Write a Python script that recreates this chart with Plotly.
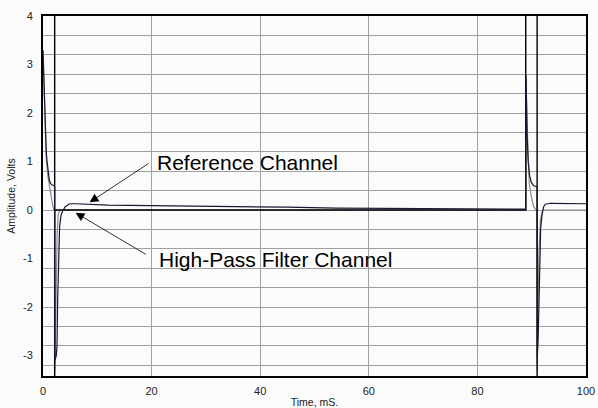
import plotly.graph_objects as go

# ---- Time base and channel samples (time in mS, amplitude in volts) ----
ref_t = [0.0, 0.1, 0.3, 0.42, 0.6, 0.75, 0.95, 1.16, 1.4, 1.65, 2.15,
         2.16, 2.45, 2.58, 2.7, 2.88, 3.06, 3.3, 3.5, 4.1, 4.9, 6.1, 8.0,
         12.0, 20.0, 34.0, 45.0, 54.0, 70.0, 88.9,
         88.95, 89.05, 89.15, 89.35, 89.6, 89.9, 90.35, 91.0,
         91.02, 91.2, 91.35, 91.5, 91.65, 91.9, 92.2, 92.5, 93.5, 100.0]
ref_v = [3.3, 2.9, 2.13, 1.6, 1.2, 1.0, 0.78, 0.62, 0.55, 0.52, 0.49,
         -3.1, -3.0, -2.8, -1.86, -0.82, -0.34, -0.12, -0.05, 0.07, 0.13, 0.13, 0.12,
         0.10, 0.09, 0.08, 0.06, 0.04, 0.03, 0.02,
         2.78, 2.0, 1.55, 1.0, 0.72, 0.58, 0.5, 0.48,
         -3.05, -2.6, -1.6, -0.7, -0.38, -0.1, 0.07, 0.12, 0.14, 0.13]

hpf_t = [0.0, 0.3, 0.6, 0.9, 1.2, 1.5, 1.8, 2.0, 2.15,
         2.17, 2.4, 2.6, 2.8, 3.1, 88.9,
         88.95, 89.25, 89.55, 89.9, 90.35, 90.8, 91.0,
         91.02, 91.3, 91.6, 92.0, 100.0]
hpf_v = [3.2, 1.9, 1.05, 0.7, 0.48, 0.25, 0.08, 0.01, 0.0,
         -3.3, -1.5, -0.5, -0.1, 0.0, 0.0,
         2.7, 1.5, 0.55, 0.3, 0.07, 0.0, 0.0,
         -3.3, -1.0, -0.2, 0.0, 0.0]

# Gate signal: full-scale transitions at the pulse edges
gate_t = [0.0, 2.15, 2.15, 2.16, 88.9, 88.9, 91.0, 91.0]
gate_v = [9.0, 9.0, -9.0, 0.0, 0.0, 9.0, 9.0, -9.0]

# ---- Axes ----
x_range = [0, 100]
y_range = [-3.42, 4]
x_ticks = [0, 20, 40, 60, 80, 100]
y_ticks = [-3, -2, -1, 0, 1, 2, 3, 4]
y_tick_text = ["-3", "-2", "-1", "0", "1", "2", "3", "4"]

FONT = "Liberation Sans, Arial, Helvetica, sans-serif"

fig = go.Figure()
fig.add_trace(go.Scatter(x=hpf_t, y=hpf_v, mode="lines",
                         line=dict(color="#8c8c8c", width=1.2), showlegend=False))
fig.add_trace(go.Scatter(x=gate_t, y=gate_v, mode="lines",
                         line=dict(color="#000000", width=1.4), showlegend=False))
fig.add_trace(go.Scatter(x=ref_t, y=ref_v, mode="lines",
                         line=dict(color="#181830", width=1.2), showlegend=False))

# Callouts
fig.add_annotation(x=8.58, y=0.16, ax=19.7, ay=0.98, xref="x", yref="y",
                   axref="x", ayref="y", text="", showarrow=True,
                   arrowhead=2, arrowsize=2.2, arrowwidth=0.8, arrowcolor="#000")
fig.add_annotation(x=6.0, y=-0.055, ax=19.2, ay=-0.93, xref="x", yref="y",
                   axref="x", ayref="y", text="", showarrow=True,
                   arrowhead=2, arrowsize=2.2, arrowwidth=0.8, arrowcolor="#000")
fig.add_annotation(x=20.6, y=0.99, xref="x", yref="y", xanchor="left",
                   yanchor="middle", text="Reference Channel", showarrow=False,
                   font=dict(family=FONT, size=21, color="#000"))
fig.add_annotation(x=21.0, y=-1.01, xref="x", yref="y", xanchor="left",
                   yanchor="middle", text="High-Pass Filter Channel", showarrow=False,
                   font=dict(family=FONT, size=21, color="#000"))

fig.update_layout(
    width=598, height=408,
    margin=dict(l=43, r=12, t=16, b=32),
    paper_bgcolor="#fbfbfb", plot_bgcolor="#fbfbfb",
    font=dict(family=FONT, size=11, color="#222"),
    xaxis=dict(range=x_range, tickvals=x_ticks, showgrid=True, automargin=False,
               gridcolor="#a0a0a0", gridwidth=1, zeroline=False,
               showline=True, mirror=True, linecolor="#000", linewidth=1.5,
               ticks="outside", ticklen=4, tickcolor="rgba(0,0,0,0)",
               tickfont=dict(size=11, color="#222"),
               title=dict(text="Time, mS.", font=dict(size=10.5, color="#222"),
                          standoff=4)),
    yaxis=dict(range=y_range, tick0=0, dtick=0.4, showticklabels=False,
               automargin=False,
               showgrid=True, gridcolor="#a0a0a0", gridwidth=1, zeroline=False,
               showline=True, mirror=True, linecolor="#000", linewidth=1.5,
               ticks=""),
    yaxis2=dict(range=y_range, overlaying="y", side="left", anchor="x",
                automargin=False,
                tickvals=y_ticks, ticktext=y_tick_text, showgrid=False,
                zeroline=False, showline=False,
                ticks="outside", ticklen=7, tickcolor="rgba(0,0,0,0)",
                tickfont=dict(size=11, color="#222"),
                title=dict(text="Amplitude, Volts", font=dict(size=10.5, color="#222"),
                           standoff=5)),
)

# Keep the integer tick labels attached to the overlay axis
fig.add_trace(go.Scatter(x=[None], y=[None], yaxis="y2", showlegend=False,
                         hoverinfo="skip"))

fig.write_html("out.html")
